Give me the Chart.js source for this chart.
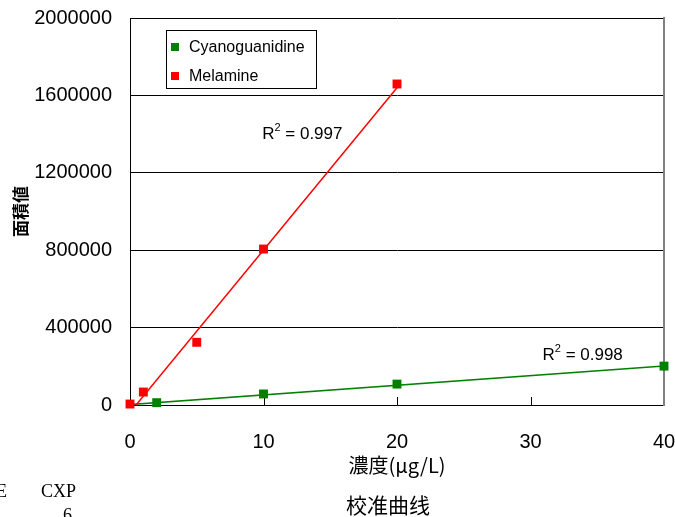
<!DOCTYPE html>
<html>
<head>
<meta charset="utf-8">
<script src="https://cdn.jsdelivr.net/npm/chart.js@4.4.0/dist/chart.umd.min.js"></script>
<style>
  body { margin: 0; background: #fff; }
  #wrap { width: 675px; height: 517px; position: relative; }
</style>
</head>
<body>
<div id="wrap"><canvas id="myChart" width="675" height="517"></canvas></div>
<script>
// data
const seriesNames = ['Cyanoguanidine', 'Melamine'];
const seriesColors = ['#008000', '#ff0000'];

const cyanoX = [2, 10, 20, 40];
const cyanoY = [12000, 57000, 108000, 201000];

const melamineX = [0, 1, 5, 10, 20];
const melamineY = [5000, 67000, 324000, 806000, 1659000];

// linear trend lines (end points as drawn)
const cyanoTrendX = [0, 40];
const cyanoTrendY = [2000, 201000];
const melamineTrendX = [0, 20];
const melamineTrendY = [-38000, 1640000];

const r2Labels = ['0.998', '0.997'];
const xTicks = [0, 10, 20, 30, 40];
const yTicks = [0, 400000, 800000, 1200000, 1600000, 2000000];

const toPoints = (xs, ys) => xs.map((x, i) => ({x: x, y: ys[i]}));

const NUM_FONT = '"Liberation Sans", Arial, sans-serif';
const CJK_FONT = '"Noto Sans CJK JP", "Noto Sans CJK SC", sans-serif';

function noPad(s) {
  s.paddingTop = 0;
  s.paddingBottom = 0;
  s.paddingLeft = 0;
  s.paddingRight = 0;
}

const extras = {
  id: 'extras',
  beforeDatasetsDraw(chart) {
    const ctx = chart.ctx;
    const xs = chart.scales.x;
    const area = chart.chartArea;
    ctx.save();
    // right frame line
    ctx.strokeStyle = '#808080';
    ctx.lineWidth = 2;
    ctx.beginPath();
    ctx.moveTo(area.right, area.top - 1);
    ctx.lineTo(area.right, area.bottom + 1);
    ctx.stroke();

    // inward x tick marks
    ctx.strokeStyle = '#000';
    ctx.lineWidth = 1;
    xTicks.slice(1, -1).forEach(v => {
      const px = Math.round(xs.getPixelForValue(v)) + 0.5;
      ctx.beginPath();
      ctx.moveTo(px, area.bottom);
      ctx.lineTo(px, area.bottom - 8);
      ctx.stroke();
    });
    ctx.restore();
  },
  afterDraw(chart) {
    const ctx = chart.ctx;
    const xs = chart.scales.x, ys = chart.scales.y;
    ctx.save();

    // legend box
    ctx.fillStyle = '#fff';
    ctx.fillRect(166, 30, 150, 58);
    ctx.strokeStyle = '#000';
    ctx.lineWidth = 1;
    ctx.strokeRect(166.5, 30.5, 150, 58);
    ctx.font = '16px ' + NUM_FONT;
    ctx.textBaseline = 'middle';
    seriesNames.forEach((name, i) => {
      const cy = 47 + i * 29;
      ctx.fillStyle = seriesColors[i];
      ctx.fillRect(171, cy - 4, 8, 8);
      ctx.fillStyle = '#000';
      ctx.fillText(name, 189, cy + 1);
    });

    // R^2 labels
    const drawR2 = (txt, xv, yv) => {
      let px = xs.getPixelForValue(xv);
      const py = ys.getPixelForValue(yv);
      ctx.fillStyle = '#000';
      ctx.textBaseline = 'alphabetic';
      ctx.font = '17px ' + NUM_FONT;
      ctx.fillText('R', px, py + 6);
      px += ctx.measureText('R').width;
      ctx.font = '11px ' + NUM_FONT;
      ctx.fillText('2', px, py - 2);
      px += ctx.measureText('2').width;
      ctx.font = '17px ' + NUM_FONT;
      ctx.fillText(' = ' + txt, px, py + 6);
    };
    drawR2(r2Labels[1], 9.9, 1405000);
    drawR2(r2Labels[0], 30.9, 263000);

    // caption below the chart
    ctx.font = '21px ' + CJK_FONT;
    ctx.textAlign = 'center';
    ctx.textBaseline = 'middle';
    ctx.fillText('校准曲线', 388, 505);

    // stray text at the bottom-left edge
    ctx.textAlign = 'left';
    ctx.font = '18px "Liberation Serif", serif';
    ctx.textBaseline = 'alphabetic';
    ctx.fillText('E', -4, 497);
    ctx.fillText('CXP', 41, 497);
    ctx.fillText('6', 63, 521);

    ctx.restore();
  }
};

const ctx = document.getElementById('myChart').getContext('2d');
const myChart = new Chart(ctx, {
  type: 'scatter',
  data: {
    datasets: [
      {
        label: seriesNames[0],
        data: toPoints(cyanoX, cyanoY),
        backgroundColor: seriesColors[0],
        borderColor: seriesColors[0],
        pointStyle: 'rect',
        pointRadius: 6.3,
        pointHoverRadius: 6.3,
        borderWidth: 0,
        clip: false,
        order: 3
      },
      {
        label: seriesNames[1],
        data: toPoints(melamineX, melamineY),
        backgroundColor: seriesColors[1],
        borderColor: seriesColors[1],
        pointStyle: 'rect',
        pointRadius: 6.3,
        pointHoverRadius: 6.3,
        borderWidth: 0,
        clip: false,
        order: 1
      },
      {
        label: 'trend1',
        data: toPoints(cyanoTrendX, cyanoTrendY),
        showLine: true,
        pointRadius: 0,
        borderColor: seriesColors[0],
        borderWidth: 1.5,
        order: 4
      },
      {
        label: 'trend2',
        data: toPoints(melamineTrendX, melamineTrendY),
        showLine: true,
        pointRadius: 0,
        borderColor: seriesColors[1],
        borderWidth: 1.5,
        order: 2
      }
    ]
  },
  options: {
    responsive: false,
    animation: false,
    layout: { padding: { left: 0, right: 11, top: 18, bottom: 24 } },
    plugins: {
      legend: { display: false },
      tooltip: { enabled: false },
      title: { display: false }
    },
    scales: {
      x: {
        type: 'linear',
        min: 0,
        max: 40,
        afterBuildTicks: s => { s.ticks = xTicks.map(v => ({value: v})); },
        afterFit: s => { s.height = 88; noPad(s); },
        grid: { drawOnChartArea: false, drawTicks: false },
        border: { color: '#000', width: 1 },
        ticks: {
          padding: 25,
          color: '#000',
          maxRotation: 0,
          font: { family: NUM_FONT, size: 20 }
        },
        title: {
          display: true,
          text: '濃度(μg/L)',
          color: '#000',
          font: { family: CJK_FONT, size: 20 },
          padding: { top: 0, bottom: 16 }
        }
      },
      y: {
        type: 'linear',
        min: 0,
        max: 2000000,
        afterBuildTicks: s => { s.ticks = yTicks.map(v => ({value: v})); },
        afterFit: s => { s.width = 130; noPad(s); },
        grid: { color: '#000', lineWidth: 1, drawTicks: false },
        border: { color: '#000', width: 1 },
        ticks: {
          padding: 18,
          color: '#000',
          font: { family: NUM_FONT, size: 20 },
          callback: v => String(v)
        },
        title: {
          display: true,
          text: '面積値',
          color: '#000',
          font: { family: CJK_FONT, size: 17, weight: 'bold' },
          padding: { top: 10, bottom: 0 }
        }
      }
    }
  },
  plugins: [extras]
});
</script>
</body>
</html>
